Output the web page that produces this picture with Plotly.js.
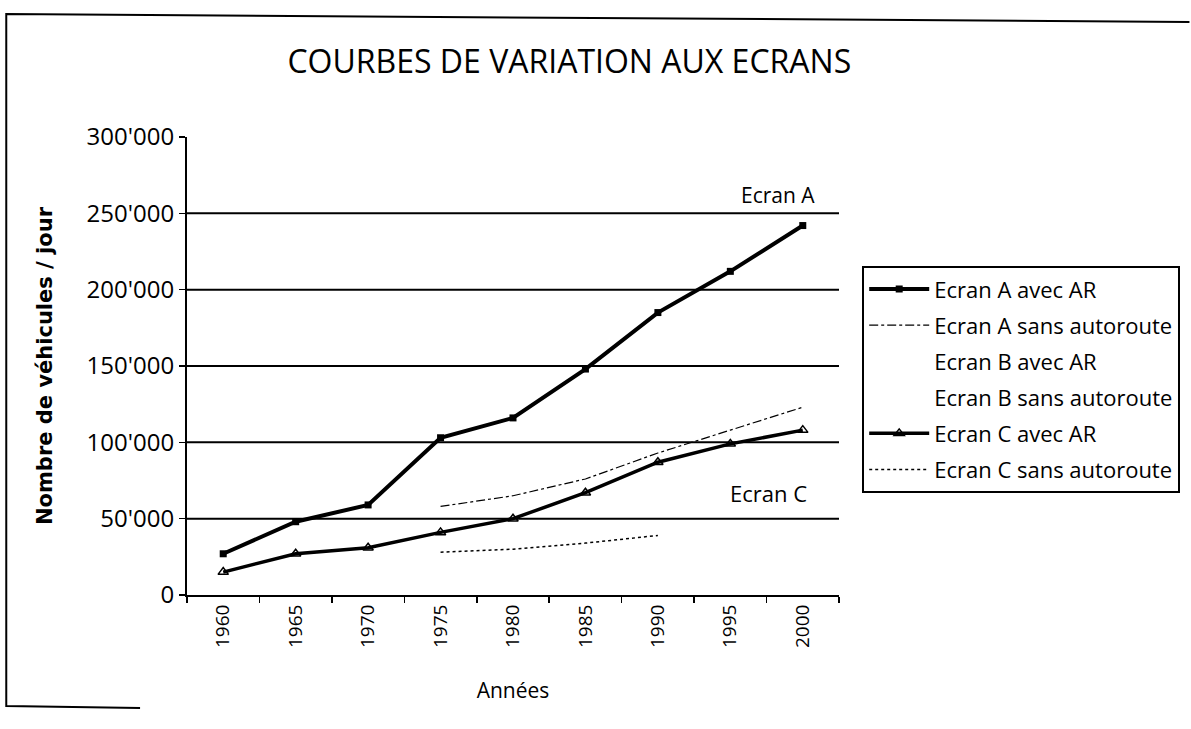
<!DOCTYPE html>
<html>
<head>
<meta charset="utf-8">
<script src="https://cdn.plot.ly/plotly-3.0.1.min.js"></script>
<style>
html,body{margin:0;padding:0;background:#fff;}
#chart{width:1191px;height:729px;}
</style>
</head>
<body>
<div id="chart"></div>
<script>
// Categories (years)
var annees = ['1960','1965','1970','1975','1980','1985','1990','1995','2000'];
// Series values (vehicles / day)
var ecranA_avecAR   = [27000, 48000, 59000, 103000, 116000, 148000, 185000, 212000, 242000];
var ecranA_sansAR   = [null, null, null, 58000, 65000, 76000, 93000, 108000, 123000];
var ecranB_avecAR   = [null, null, null, null, null, null, null, null, null];
var ecranB_sansAR   = [null, null, null, null, null, null, null, null, null];
var ecranC_avecAR   = [15000, 27000, 31000, 41000, 50000, 67000, 87000, 99000, 108000];
var ecranC_sansAR   = [null, null, null, 28000, 30000, 34000, 39000, null, null];
// Legend names
var noms = ['Ecran A avec AR','Ecran A sans autoroute','Ecran B avec AR','Ecran B sans autoroute','Ecran C avec AR','Ecran C sans autoroute'];
// Y ticks
var yTickVals = [0, 50000, 100000, 150000, 200000, 250000, 300000];
var yTickText = ['0', "50'000", "100'000", "150'000", "200'000", "250'000", "300'000"];
var gridVals = [50000, 100000, 150000, 200000, 250000];

var FONT = 'Open Sans, sans-serif';

var traces = [
  {x: annees, y: ecranA_avecAR, name: noms[0], mode: 'lines+markers', legendgroup: 'g1',
   line: {color: '#000', width: 4}, marker: {symbol: 'square', size: 7, color: '#000'}},
  {x: annees, y: ecranA_sansAR, name: noms[1], mode: 'lines', legendgroup: 'g2',
   line: {color: '#000', width: 1.2, dash: 'dashdot'}},
  {x: annees, y: ecranB_avecAR, name: noms[2], mode: 'lines', legendgroup: 'g3',
   line: {color: 'rgba(0,0,0,0)', width: 1}},
  {x: annees, y: ecranB_sansAR, name: noms[3], mode: 'lines', legendgroup: 'g4',
   line: {color: 'rgba(0,0,0,0)', width: 1}},
  {x: annees, y: ecranC_avecAR, name: noms[4], mode: 'lines+markers', legendgroup: 'g5',
   line: {color: '#000', width: 3.5},
   marker: {symbol: 'triangle-up-open', size: 9, color: '#000', line: {width: 1.5, color: '#000'}}},
  {x: annees, y: ecranC_sansAR, name: noms[5], mode: 'lines', legendgroup: 'g6',
   line: {color: '#000', width: 1.5, dash: 'dot'}}
];

var shapes = gridVals.map(function(v){
  return {type: 'line', xref: 'paper', yref: 'y', x0: 0, x1: 1, y0: v, y1: v,
          line: {color: '#000', width: 2}, layer: 'below'};
});
// Outer frame of the scanned chart
shapes.push({type: 'path', xref: 'paper', yref: 'paper',
  path: 'M 1.5375 1.2511 L -0.2772 1.2686 L -0.2772 -0.2424 L -0.072 -0.2467',
  line: {color: '#000', width: 2}});

var layout = {
  width: 1191, height: 729,
  paper_bgcolor: '#fff', plot_bgcolor: '#fff',
  margin: {l: 187, r: 351, t: 137, b: 134},
  font: {family: FONT, color: '#000', size: 20},
  title: {text: 'COURBES DE VARIATION AUX ECRANS', x: 0.478, xanchor: 'center', y: 0.915, yanchor: 'middle',
          font: {family: FONT, size: 32, color: '#000'}},
  xaxis: {
    type: 'category', tickson: 'boundaries', ticks: 'outside', ticklen: 6, tickcolor: '#000', tickwidth: 1.5,
    showline: true, linecolor: '#000', linewidth: 2, showgrid: false, zeroline: false,
    tickangle: -90, tickfont: {family: FONT, size: 19, color: '#000'},
    range: [-0.5, 8.5], automargin: false,
    title: {text: 'Années', font: {family: FONT, size: 21, color: '#000'}, standoff: 36}
  },
  yaxis: {
    range: [0, 300000], tickvals: yTickVals, ticktext: yTickText,
    ticks: 'outside', ticklen: 6, tickcolor: '#000', tickwidth: 1.5,
    showline: true, linecolor: '#000', linewidth: 2, showgrid: false, zeroline: false,
    tickfont: {family: FONT, size: 24, color: '#000'}, automargin: false,
    title: {text: 'Nombre de véhicules / jour', font: {family: 'DejaVu Sans, sans-serif', size: 21, color: '#000', weight: 'bold'}, standoff: 28}
  },
  legend: {
    x: 1.034, xanchor: 'left', y: 0.718, yanchor: 'top',
    bordercolor: '#000', borderwidth: 2, bgcolor: '#fff',
    font: {family: FONT, size: 22, color: '#000'},
    traceorder: 'grouped', tracegroupgap: 4.5, itemwidth: 60
  },
  showlegend: true,
  shapes: shapes,
  annotations: [
    {xref: 'x', yref: 'y', x: 8, y: 262000, text: 'Ecran A', showarrow: false, xanchor: 'right',
     xshift: 14, font: {family: FONT, size: 21, color: '#000'}},
    {xref: 'x', yref: 'y', x: 7, y: 67000, text: 'Ecran C', showarrow: false,
     xshift: 38, font: {family: FONT, size: 22, color: '#000'}}
  ]
};

Plotly.newPlot('chart', traces, layout, {displayModeBar: false, staticPlot: true});
</script>
</body>
</html>
